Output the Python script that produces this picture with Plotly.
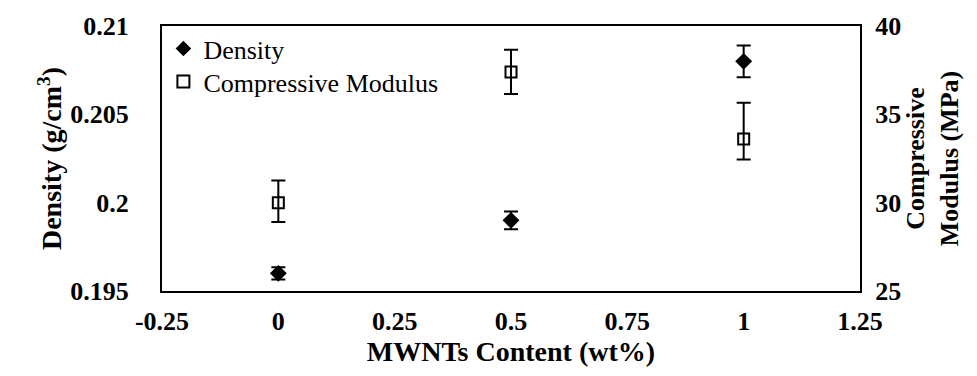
import plotly.graph_objects as go

content = [0, 0.5, 1]
density = [0.1960, 0.1990, 0.2080]
density_err = [0.00035, 0.0005, 0.0009]
modulus = [30.0, 37.4, 33.6]
modulus_err_plus = [1.25, 1.25, 2.05]
modulus_err_minus = [1.1, 1.25, 1.15]

x_ticks = [-0.25, 0, 0.25, 0.5, 0.75, 1, 1.25]
x_labels = ["-0.25", "0", "0.25", "0.5", "0.75", "1", "1.25"]
y1_ticks = [0.195, 0.2, 0.205, 0.21]
y1_labels = ["0.195", "0.2", "0.205", "0.21"]
y2_ticks = [25, 30, 35, 40]
y2_labels = ["25", "30", "35", "40"]

FONT = "Liberation Serif"

fig = go.Figure()
fig.add_trace(go.Scatter(
    x=content, y=density, mode="markers", name="Density", legend="legend",
    marker=dict(symbol="diamond", size=13, color="black"),
    error_y=dict(type="data", array=density_err, color="black", thickness=2, width=7),
))
fig.add_trace(go.Scatter(
    x=content, y=modulus, mode="markers", name="Compressive Modulus", yaxis="y2",
    legend="legend2",
    marker=dict(symbol="square-open", size=11, color="black", line=dict(width=2, color="black")),
    error_y=dict(type="data", array=modulus_err_plus, arrayminus=modulus_err_minus,
                 symmetric=False, color="black", thickness=2, width=7),
))

tickfont = dict(family=FONT, size=26, color="black", weight="bold")
titlefont = dict(family=FONT, size=28, color="black", weight="bold")
titlefont2 = dict(family=FONT, size=26, color="black", weight="bold")
legendfont = dict(family=FONT, size=26, color="black")

fig.update_layout(
    width=977, height=376,
    margin=dict(l=154, r=125, t=18, b=93),
    plot_bgcolor="white", paper_bgcolor="white",
    showlegend=True,
    legend=dict(x=0.002, y=0.915, xanchor="left", yanchor="middle",
                font=legendfont, bgcolor="rgba(0,0,0,0)", itemsizing="constant"),
    legend2=dict(x=0.002, y=0.79, xanchor="left", yanchor="middle",
                 font=legendfont, bgcolor="rgba(0,0,0,0)", itemsizing="constant"),
    xaxis=dict(range=[-0.25, 1.25], tickvals=x_ticks, ticktext=x_labels,
               showgrid=False, zeroline=False, showline=True, linecolor="black",
               linewidth=2, mirror=True, ticks="", tickfont=tickfont, automargin=False,
               ticklabelstandoff=6,
               title=dict(text="MWNTs Content (wt%)", font=titlefont, standoff=2)),
    yaxis=dict(range=[0.195, 0.21], tickvals=y1_ticks, ticktext=y1_labels,
               showgrid=False, zeroline=False, showline=True, linecolor="black",
               linewidth=2, ticks="", tickfont=tickfont, ticklabelstandoff=26,
               automargin=False,
               title=dict(text="Density (g/cm<sup>3</sup>)", font=titlefont, standoff=0)),
    yaxis2=dict(range=[25, 40], tickvals=y2_ticks, ticktext=y2_labels,
                overlaying="y", side="right",
                showgrid=False, zeroline=False, showline=True, linecolor="black",
                linewidth=2, ticks="", tickfont=tickfont, ticklabelstandoff=8,
                automargin=False,
                title=dict(text="Compressive<br>Modulus (MPa)", font=titlefont2, standoff=0)),
)

fig.write_html("out.html")
